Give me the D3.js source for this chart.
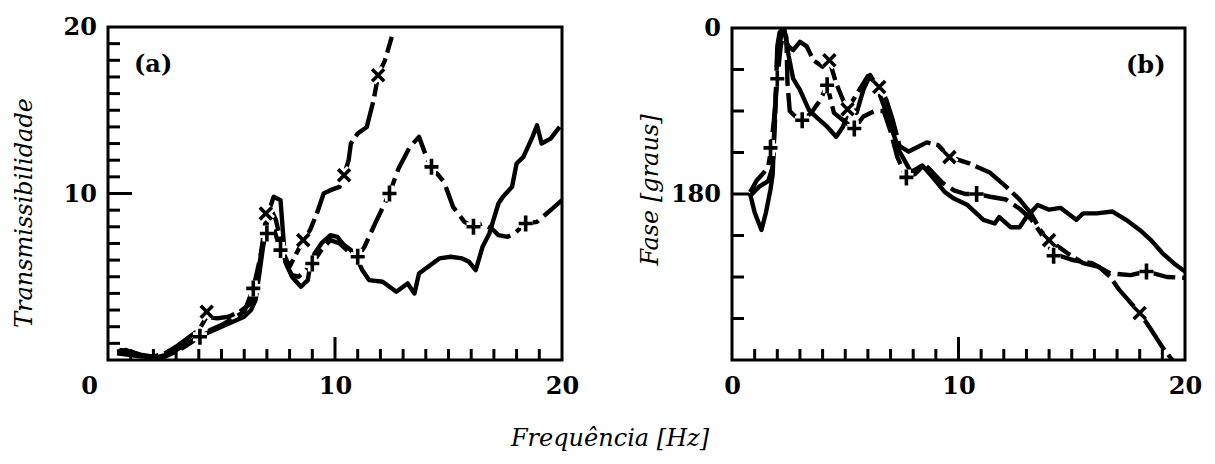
<!DOCTYPE html>
<html><head><meta charset="utf-8">
<script src="https://cdn.jsdelivr.net/npm/d3@7"></script>
<style>body{margin:0;background:#fff}svg{display:block}</style>
</head><body>
<svg id="c" width="1215" height="464"></svg>
<script>
// ---------- data ----------
const freqLabels = [0, 10, 20];
const freqMinor = [1,2,3,4,5,6,7,8,9,11,12,13,14,15,16,17,18,19];
const freqMajor = [10];
const transLabels = [10, 20];
const transMinor = [1,2,3,4,5,6,7,8,9,11,12,13,14,15,16,17,18,19];
const transMajor = [10];
const phaseLabels = [0, 180];
const phaseMinor = [45, 90, 135, 225, 270, 315];
const phaseMajor = [180];

// Panel (a): transmissibility  [freq Hz, value]
const transSolid = [[0.4,0.5],[0.8,0.6],[1.2,0.4],[1.6,0.2],[2.0,0.1],[2.5,0.3],[3.0,0.6],[3.5,1.0],[4.0,1.4],[4.5,1.7],[5.0,2.0],[5.5,2.3],[6.0,2.6],[6.3,3.0],[6.5,3.6],[6.7,5.5],[6.9,7.5],[7.1,9.0],[7.3,9.8],[7.6,9.6],[7.7,7.8],[7.8,6.0],[8.1,5.0],[8.5,4.4],[8.8,4.8],[8.9,5.6],[9.1,6.4],[9.4,7.0],[9.8,7.5],[10.1,7.4],[10.4,6.9],[10.7,6.6],[11.0,6.0],[11.2,5.4],[11.5,4.8],[12.1,4.7],[12.4,4.4],[12.7,4.1],[13.2,4.6],[13.5,4.0],[13.7,5.2],[14.1,5.6],[14.6,6.1],[15.1,6.2],[15.6,6.1],[15.9,5.9],[16.2,5.4],[16.5,6.8],[16.8,7.6],[17.2,9.4],[17.4,9.8],[17.8,10.4],[18.0,11.8],[18.3,12.2],[18.7,13.4],[18.9,14.1],[19.1,13.0],[19.5,13.3],[19.9,14.0]];
const transPlus = [[0.4,0.4],[1.0,0.3],[1.5,0.2],[2.0,0.1],[2.5,0.2],[3.0,0.5],[3.5,0.9],[4.05,1.4],[4.5,1.8],[5.0,2.1],[5.5,2.5],[6.0,2.9],[6.4,4.3],[6.6,5.5],[6.8,6.8],[7.0,7.6],[7.3,7.9],[7.6,6.6],[7.9,5.6],[8.1,5.1],[8.4,5.0],[8.7,5.4],[9.0,5.8],[9.4,6.6],[9.8,7.2],[10.2,7.0],[10.6,6.5],[11.0,6.2],[11.3,6.8],[11.8,8.3],[12.4,10.0],[12.8,11.5],[13.3,12.8],[13.7,13.4],[14.0,12.3],[14.25,11.6],[14.8,10.7],[15.2,9.2],[15.7,8.3],[16.1,8.0],[16.5,8.2],[16.9,7.9],[17.2,7.5],[17.6,7.4],[17.9,7.6],[18.4,8.2],[18.9,8.3],[19.5,9.0],[20.0,9.6]];
const transCross = [[0.5,0.6],[1.0,0.5],[1.5,0.3],[2.0,0.2],[2.5,0.4],[3.0,0.8],[3.5,1.3],[4.0,1.8],[4.35,2.6],[4.8,2.5],[5.3,2.6],[5.8,2.9],[6.2,3.3],[6.5,4.0],[6.7,6.0],[6.9,8.0],[7.0,8.7],[7.2,9.0],[7.4,8.4],[7.6,7.2],[7.8,6.2],[8.0,5.6],[8.3,6.4],[8.6,7.2],[8.9,7.8],[9.2,8.8],[9.5,10.0],[9.8,10.2],[10.2,10.4],[10.4,11.1],[10.6,12.0],[10.7,13.0],[11.0,13.6],[11.4,14.0],[11.7,15.6],[11.9,17.1],[12.2,18.0],[12.5,19.4]];
const transPlusMarks = [[4.05,1.4],[6.4,4.3],[7.0,7.6],[7.6,6.6],[9.0,5.8],[11.0,6.2],[12.4,10.0],[14.25,11.6],[16.1,8.0],[18.4,8.2]];
const transCrossMarks = [[4.35,2.9],[6.95,8.8],[8.6,7.2],[10.4,11.1],[11.9,17.1]];

// Panel (b): phase  [freq Hz, degrees]
const phaseSolid = [[0.8,180],[1.0,200],[1.3,219],[1.5,200],[1.7,175],[1.8,158],[1.85,120],[1.95,60],[2.0,20],[2.1,5],[2.3,0],[2.5,30],[2.7,55],[3.0,67],[3.4,89],[3.7,96],[4.2,107],[4.6,118],[4.9,107],[5.2,85],[5.5,92],[5.8,67],[6.1,51],[6.4,64],[6.7,84],[7.0,106],[7.4,134],[7.9,156],[8.2,152],[8.4,149],[8.9,163],[9.4,178],[9.8,185],[10.4,192],[11.1,208],[11.6,212],[11.8,205],[12.3,216],[12.7,216],[13.0,205],[13.5,192],[14.0,197],[14.5,195],[15.2,208],[15.5,201],[16.1,201],[16.8,199],[17.4,208],[18.0,219],[18.5,230],[19.0,244],[19.5,255],[20.0,264]];
const phasePlus = [[0.8,178],[1.1,165],[1.4,157],[1.6,150],[1.7,135],[1.85,100],[2.0,55],[2.15,20],[2.3,3],[2.4,10],[2.45,60],[2.55,90],[2.8,96],[3.1,100],[3.5,92],[3.9,78],[4.2,62],[4.5,92],[5.0,102],[5.4,109],[5.8,96],[6.3,90],[6.7,90],[7.0,112],[7.3,140],[7.7,162],[8.1,158],[8.5,148],[8.8,155],[9.3,168],[9.8,176],[10.3,180],[10.8,180],[11.4,183],[12.1,186],[12.7,196],[13.2,207],[13.7,225],[14.2,245],[15.1,252],[15.9,255],[16.7,266],[17.6,268],[18.3,264],[19.2,270],[20.0,271]];
const phaseCross = [[0.8,182],[1.2,172],[1.6,166],[1.8,150],[1.9,100],[2.0,30],[2.2,5],[2.5,20],[2.7,24],[3.0,15],[3.3,20],[3.6,35],[4.0,42],[4.3,35],[4.6,60],[4.9,78],[5.1,88],[5.5,72],[5.8,60],[6.0,52],[6.3,58],[6.5,64],[6.8,77],[7.1,100],[7.4,128],[7.8,134],[8.2,129],[8.6,124],[9.1,127],[9.6,140],[10.0,143],[10.5,147],[11.4,157],[12.1,172],[12.7,186],[13.2,201],[13.6,219],[14.0,230],[14.8,244],[15.5,255],[16.2,259],[16.7,270],[17.1,284],[18.0,309],[18.5,327],[19.0,346],[19.5,362]];
const phasePlusMarks = [[1.7,130],[2.0,55],[3.1,100],[4.2,62],[5.4,109],[7.7,162],[10.8,180],[14.2,247],[18.3,264]];
const phaseCrossMarks = [[4.3,35],[5.1,88],[6.5,64],[9.6,140],[14.0,230],[18.0,309]];

// ---------- drawing ----------
const svg = d3.select("#c");
const SERIF = "'DejaVu Serif', 'Liberation Serif', serif";

const panels = [
  {
    name: "a", xRange: [108, 562], yDomain: [0, 20], yRange: [360, 27],
    minor: transMinor, major: transMajor, majorLen: 24, labels: transLabels, labelPad: 11,
    zeroShift: -19,
    series: [{data: transSolid, dash: null}, {data: transPlus, dash: "26,7"}, {data: transCross, dash: "40,6"}],
    plusMarks: transPlusMarks, crossMarks: transCrossMarks,
    tag: ["(a)", 134, 72], title: ["Transmissibilidade", 32, 213]
  },
  {
    name: "b", xRange: [732, 1185], yDomain: [0, 360], yRange: [28, 360],
    minor: phaseMinor, major: phaseMajor, majorLen: 17, labels: phaseLabels, labelPad: 11,
    series: [{data: phaseSolid, dash: null}, {data: phasePlus, dash: "26,7"}, {data: phaseCross, dash: "40,6"}],
    plusMarks: phasePlusMarks, crossMarks: phaseCrossMarks,
    tag: ["(b)", 1126, 73], title: ["Fase [graus]", 658, 190]
  }
];

panels.forEach(p => {
  p.x = d3.scaleLinear().domain([0, 20]).range(p.xRange);
  p.y = d3.scaleLinear().domain(p.yDomain).range(p.yRange);
  p.top = Math.min(...p.yRange);
  p.bot = Math.max(...p.yRange);
  p.left = p.xRange[0];
});

const defs = svg.append("defs");
panels.forEach(p => {
  defs.append("clipPath").attr("id", "clip" + p.name).append("rect")
    .attr("x", p.left).attr("y", p.top)
    .attr("width", p.xRange[1] - p.left).attr("height", p.bot - p.top);
});

// curves and markers
panels.forEach(p => {
  const x = p.x, y = p.y;
  const plot = svg.append("g").attr("clip-path", `url(#clip${p.name})`);
  const line = d3.line().x(d => x(d[0])).y(d => y(d[1]));
  plot.selectAll("path.curve").data(p.series).join("path").attr("class", "curve")
    .attr("d", s => line(s.data))
    .attr("fill", "none").attr("stroke", "#000").attr("stroke-width", 4.4)
    .attr("stroke-linejoin", "round")
    .attr("stroke-dasharray", s => s.dash);
  const plusD = "M-7,0H7M0,-8V8";
  const crossD = "M-6,-6L6,6M-6,6L6,-6";
  const marks = p.plusMarks.map(d => ({d, path: plusD})).concat(p.crossMarks.map(d => ({d, path: crossD})));
  plot.selectAll("path.halo").data(marks).join("path").attr("class", "halo")
    .attr("d", m => m.path)
    .attr("transform", m => `translate(${x(m.d[0])},${y(m.d[1])})`)
    .attr("fill", "none").attr("stroke", "#fff").attr("stroke-width", 9);
  plot.selectAll("path.mark").data(marks).join("path").attr("class", "mark")
    .attr("d", m => m.path)
    .attr("transform", m => `translate(${x(m.d[0])},${y(m.d[1])})`)
    .attr("fill", "none").attr("stroke", "#000").attr("stroke-width", 3.6);
});

// frames, ticks and labels
panels.forEach(p => {
  const x = p.x, y = p.y;
  svg.append("rect").attr("x", p.left).attr("y", p.top)
    .attr("width", p.xRange[1] - p.left).attr("height", p.bot - p.top)
    .attr("fill", "none").attr("stroke", "#000").attr("stroke-width", 3);

  const tk = svg.append("g").attr("stroke", "#000").attr("stroke-width", 3);
  tk.append("g").selectAll("line").data(freqMinor).join("line")
    .attr("x1", d => x(d)).attr("x2", d => x(d)).attr("y1", p.bot).attr("y2", p.bot - 11);
  tk.append("g").selectAll("line").data(freqMajor).join("line")
    .attr("x1", d => x(d)).attr("x2", d => x(d)).attr("y1", p.bot).attr("y2", p.bot - 23);
  tk.append("g").selectAll("line").data(p.minor).join("line")
    .attr("y1", d => y(d)).attr("y2", d => y(d)).attr("x1", p.left).attr("x2", p.left + 12);
  tk.append("g").selectAll("line").data(p.major).join("line")
    .attr("y1", d => y(d)).attr("y2", d => y(d)).attr("x1", p.left).attr("x2", p.left + p.majorLen);

  const lb = svg.append("g").attr("transform", `translate(0,${p.bot})`)
    .call(d3.axisBottom(x).tickValues(freqLabels).tickSize(0).tickPadding(17).tickFormat(d3.format("d")));
  lb.select(".domain").remove();
  lb.selectAll("text").attr("font-family", SERIF).attr("font-weight", "bold").attr("font-size", 24).attr("fill", "#000");
  if (p.zeroShift) lb.selectAll(".tick").filter(d => d === 0).select("text").attr("x", p.zeroShift);

  const ll = svg.append("g").attr("transform", `translate(${p.left},0)`)
    .call(d3.axisLeft(y).tickValues(p.labels).tickSize(0).tickPadding(p.labelPad).tickFormat(d3.format("d")));
  ll.select(".domain").remove();
  ll.selectAll("text").attr("font-family", SERIF).attr("font-weight", "bold").attr("font-size", 24).attr("fill", "#000");

  svg.append("text").attr("x", p.tag[1]).attr("y", p.tag[2]).text(p.tag[0])
    .attr("font-family", SERIF).attr("font-weight", "bold").attr("font-size", 24).attr("fill", "#000");

  svg.append("text").attr("transform", `translate(${p.title[1]},${p.title[2]}) rotate(-90)`)
    .attr("text-anchor", "middle").text(p.title[0])
    .attr("font-family", SERIF).attr("font-style", "italic").attr("font-size", 24).attr("fill", "#000");
});

svg.append("text").attr("x", 610).attr("y", 446).attr("text-anchor", "middle")
  .text("Frequência [Hz]")
  .attr("font-family", SERIF).attr("font-style", "italic").attr("font-size", 24).attr("fill", "#000");
</script>
</body></html>
